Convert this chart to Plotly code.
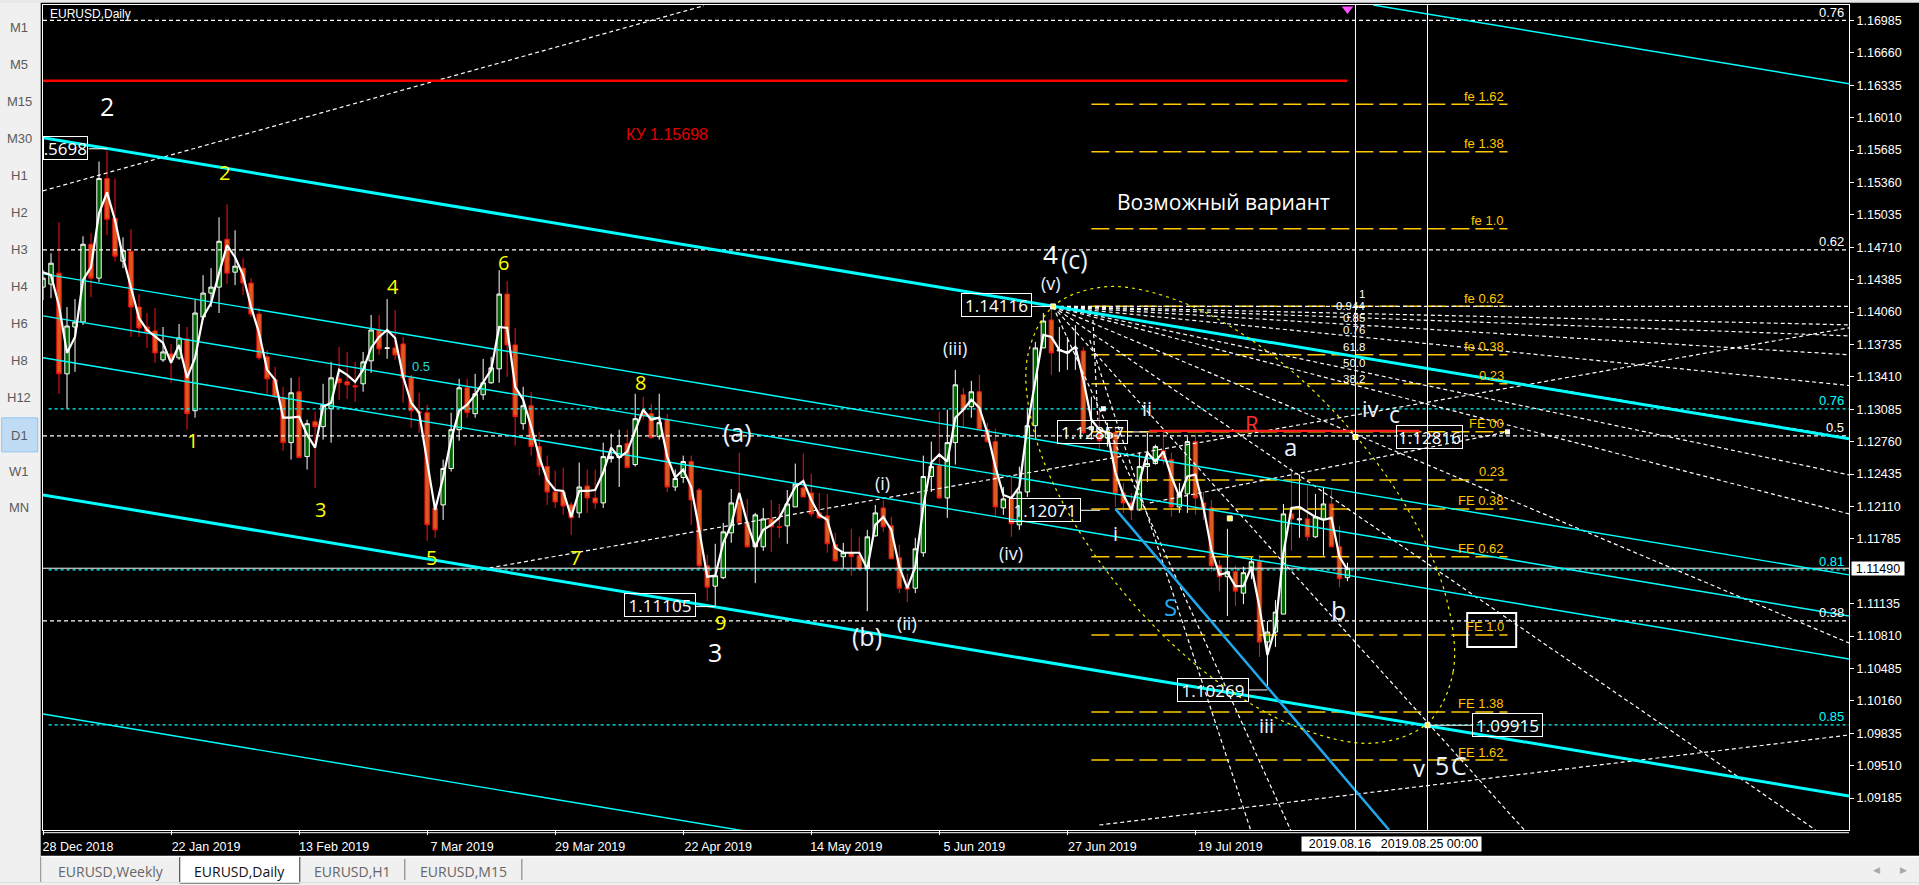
import plotly.graph_objects as go

# ---------- data ----------
HIGH = [1.1448,1.1465,1.1496,1.1411,1.1419,1.1482,1.1485,1.1557,1.1568,1.1540,1.1481,1.1489,1.1424,1.1405,1.1410,1.1391,1.1374,1.1394,1.1391,1.1418,
1.1443,1.1450,1.1501,1.1514,1.1488,1.1460,1.1440,1.1410,1.1368,1.1351,1.1331,1.1340,1.1341,1.1298,1.1306,1.1334,1.1356,1.1371,1.1366,1.1356,
1.1366,1.1403,1.1403,1.1419,1.1408,1.1381,1.1343,1.1325,1.1313,1.12175,1.1258,1.1305,1.1339,1.1339,1.1344,1.1359,1.1361,1.1448,1.1437,1.1390,
1.1331,1.1326,1.1286,1.1262,1.1247,1.1250,1.12155,1.1255,1.1248,1.1248,1.1275,1.1284,1.1288,1.1288,1.1324,1.1321,1.1314,1.1324,1.1304,1.1248,
1.1262,1.1262,1.12295,1.11625,1.11735,1.11945,1.12285,1.1265,1.12185,1.12045,1.12095,1.12175,1.12135,1.12275,1.1254,1.1264,1.1244,1.12245,1.12235,1.11845,
1.11745,1.11885,1.11805,1.11875,1.12125,1.12175,1.12005,1.11725,1.11435,1.11795,1.1262,1.1276,1.1306,1.1308,1.1348,1.1330,1.1337,1.1343,1.1295,1.1289,
1.12305,1.1240,1.1251,1.1310,1.1376,1.1405,1.1410,1.1391,1.1381,1.1393,1.1371,1.1321,1.1311,1.1295,1.1291,1.12345,1.12245,1.1265,1.1285,1.1273,
1.1285,1.1265,1.12345,1.1281,1.1283,1.12255,1.12175,1.11575,1.11885,1.11515,1.11505,1.11605,1.11625,1.1096,1.1117,1.12135,1.1250,1.1243,1.12315,1.12235,
1.12305,1.12285,1.11915,1.11545]
LOW = [1.1418,1.1420,1.1324,1.1309,1.1346,1.1393,1.1421,1.1436,1.1483,1.1457,1.1450,1.1381,1.1381,1.1370,1.1355,1.1356,1.1335,1.1358,1.1288,1.1300,
1.1398,1.1411,1.1405,1.1434,1.1433,1.1423,1.1401,1.1358,1.1324,1.1320,1.1267,1.1258,1.1260,1.1248,1.12295,1.1278,1.1275,1.1318,1.1319,1.1316,
1.1326,1.1345,1.1363,1.1359,1.1358,1.1315,1.1290,1.1285,1.11765,1.11795,1.11975,1.1246,1.1277,1.1300,1.1300,1.1318,1.1334,1.1335,1.1341,1.1272,
1.1288,1.1262,1.1242,1.12125,1.12095,1.12025,1.11825,1.11995,1.12045,1.12085,1.12095,1.1255,1.12305,1.1249,1.1251,1.1298,1.1279,1.1278,1.12255,1.12265,
1.12345,1.11925,1.11475,1.1116,1.1111,1.1138,1.11745,1.11925,1.11695,1.1134,1.11665,1.11655,1.11795,1.11735,1.12105,1.12205,1.12005,1.11995,1.11645,1.11555,
1.11495,1.11415,1.11475,1.1106,1.11805,1.11855,1.11585,1.1124,1.1115,1.1124,1.11605,1.12255,1.12185,1.11995,1.1253,1.1290,1.1300,1.1287,1.1275,1.12005,
1.12025,1.11805,1.11875,1.12205,1.1281,1.1370,1.1343,1.1346,1.1348,1.1348,1.1283,1.1278,1.1268,1.1271,1.12105,1.12045,1.11975,1.12065,1.12355,1.1253,
1.1253,1.12005,1.12045,1.12045,1.12025,1.11975,1.11455,1.1126,1.1101,1.1111,1.1113,1.1138,1.1060,1.1028,1.1070,1.1103,1.11665,1.11795,1.11765,1.11795,
1.11615,1.11705,1.1130,1.1136]
OPEN = [1.1431,1.1434,1.1445,1.1344,1.1391,1.1396,1.1474,1.1440,1.1540,1.1500,1.1457,1.1467,1.1411,1.1391,1.1387,1.1358,1.1364,1.1360,1.1379,1.1307,
1.1401,1.1425,1.1431,1.1479,1.1446,1.1450,1.1435,1.1404,1.1361,1.1338,1.1320,1.1275,1.1326,1.1261,1.1296,1.1291,1.1309,1.1339,1.1336,1.1332,
1.1334,1.1357,1.1388,1.13695,1.1370,1.1374,1.1340,1.1306,1.1305,1.12095,1.12125,1.1249,1.1288,1.1330,1.1304,1.1323,1.1335,1.1349,1.1424,1.1373,
1.1294,1.1312,1.1271,1.1251,1.12255,1.12255,1.12125,1.12045,1.12315,1.12195,1.12145,1.1259,1.1260,1.1274,1.1253,1.1305,1.1304,1.1281,1.1298,1.12305,
1.1240,1.1256,1.12275,1.11515,1.1131,1.11395,1.11845,1.12155,1.11945,1.11705,1.11705,1.11985,1.11905,1.11915,1.12105,1.12295,1.12245,1.12045,1.12015,1.11725,
1.11605,1.11645,1.11615,1.11485,1.11815,1.12095,1.11915,1.11595,1.1130,1.1129,1.11645,1.1241,1.1252,1.12195,1.1275,1.1323,1.1311,1.1326,1.1288,1.1276,
1.12095,1.12185,1.11925,1.12255,1.1292,1.1370,1.1398,1.1367,1.1365,1.1369,1.1367,1.1288,1.1283,1.1280,1.1285,1.12245,1.12145,1.12075,1.1251,1.1254,
1.1267,1.1258,1.12105,1.12235,1.1276,1.12145,1.12095,1.11515,1.11405,1.11455,1.1124,1.11465,1.11555,1.1075,1.1085,1.1103,1.12035,1.11975,1.11985,1.11805,
1.11985,1.12135,1.11705,1.11395]
CLOSE = [1.1440,1.1455,1.1344,1.1392,1.1396,1.1474,1.1440,1.1540,1.1499,1.1462,1.1468,1.1411,1.1390,1.1386,1.1365,1.1366,1.1358,1.1380,1.1304,1.1405,
1.1425,1.1431,1.1477,1.1445,1.1452,1.1435,1.1404,1.1360,1.1339,1.1321,1.1275,1.1325,1.1260,1.1294,1.1291,1.1313,1.1340,1.1335,1.1333,1.1331,
1.1356,1.1388,1.1369,1.1370,1.1363,1.1340,1.1307,1.1305,1.11925,1.11875,1.1249,1.1288,1.1330,1.1305,1.1324,1.1335,1.1350,1.1424,1.1373,1.1301,
1.1312,1.1271,1.1251,1.12255,1.12155,1.12115,1.11995,1.12305,1.12195,1.12145,1.1261,1.1261,1.1272,1.1250,1.1299,1.1302,1.1280,1.1295,1.12305,1.1239,
1.1256,1.12175,1.11515,1.1130,1.11415,1.11855,1.12145,1.11945,1.11705,1.12025,1.11985,1.11905,1.1190,1.12135,1.12335,1.12205,1.12035,1.11995,1.11735,1.11565,
1.11645,1.11605,1.11485,1.11805,1.12045,1.11905,1.11585,1.1129,1.1128,1.11685,1.1241,1.1251,1.12195,1.1275,1.1333,1.1308,1.1326,1.1288,1.1276,1.12105,
1.12185,1.11935,1.12255,1.1292,1.1370,1.1397,1.1365,1.1368,1.1366,1.1370,1.1285,1.1291,1.1277,1.1285,1.12245,1.12145,1.12075,1.1251,1.1254,1.1271,
1.1258,1.12105,1.12235,1.1276,1.12195,1.12095,1.11515,1.11405,1.11455,1.1126,1.11445,1.11555,1.1075,1.1085,1.1105,1.12035,1.11985,1.11985,1.11805,1.12005,
1.12135,1.11705,1.11385,1.1149]
SMOOTH = [1.1446,1.1443,1.1412,1.1365,1.1381,1.1438,1.1451,1.1505,1.1526,1.1498,1.1461,1.1431,1.1400,1.1388,1.1381,1.1375,1.1355,1.1373,1.1340,1.1360,
1.1401,1.1415,1.1445,1.1473,1.1461,1.1443,1.1411,1.1385,1.1348,1.1338,1.1300,1.1300,1.1301,1.1283,1.1270,1.1311,1.1315,1.1348,1.1343,1.1336,
1.1348,1.1370,1.1381,1.1388,1.1380,1.1341,1.1315,1.1305,1.1256,1.12075,1.1240,1.1278,1.1307,1.1313,1.1323,1.1336,1.1348,1.1391,1.1390,1.1331,
1.1318,1.1291,1.1261,1.12375,1.12275,1.12265,1.12005,1.12265,1.12265,1.12275,1.1245,1.1270,1.1260,1.1266,1.1288,1.1308,1.1298,1.1300,1.1261,1.1240,
1.1248,1.12305,1.11875,1.11405,1.11415,1.11745,1.11925,1.12245,1.11945,1.11705,1.11875,1.11925,1.11995,1.12145,1.12305,1.12365,1.12175,1.12025,1.11975,1.11695,
1.11645,1.11645,1.11645,1.11485,1.11925,1.12005,1.11875,1.11505,1.1129,1.11505,1.12105,1.1255,1.1263,1.1256,1.1300,1.1308,1.1318,1.1310,1.1285,1.1251,
1.12225,1.12195,1.12305,1.1291,1.1338,1.1383,1.1381,1.1368,1.1365,1.1371,1.1338,1.1298,1.1288,1.1285,1.1245,1.12225,1.12075,1.12375,1.1265,1.1256,
1.1266,1.1241,1.12205,1.1241,1.1243,1.12105,1.11675,1.11425,1.11445,1.1131,1.1131,1.11505,1.1110,1.1062,1.1090,1.11645,1.12095,1.12105,1.12055,1.12005,
1.11975,1.11995,1.11605,1.11475]

PRICE_TICKS = [1.16985,1.16660,1.16335,1.16010,1.15685,1.15360,1.15035,1.14710,1.14385,1.14060,1.13735,1.13410,1.13085,1.12760,1.12435,1.12110,1.11785,1.11135,1.10810,1.10485,1.10160,1.09835,1.09510,1.09185]
DATE_BARS = [0,16,32,48,64,80,96,112,128,144]
DATE_LABELS = ["28 Dec 2018","22 Jan 2019","13 Feb 2019","7 Mar 2019","29 Mar 2019","22 Apr 2019","14 May 2019","5 Jun 2019","27 Jun 2019","19 Jul 2019"]

CHANNEL_THICK = [(0,1.15808,225.67,1.12788),(0,1.12226,225.67,1.09205)]
CHANNEL_THIN = [(166.2,1.17140,225.67,1.16350),(0,1.14443,225.67,1.11423),(0,1.14022,225.67,1.11011),(0,1.13601,225.67,1.10580),(0,1.10028,225.67,1.07007)]
FIB_WHITE = [1.16985,1.14684,1.12818,1.10961]
FIB_WHITE_TEXT = ["0.76","0.62","0.5","0.38"]
FIB_CYAN = [1.13089,1.11473,1.09918]
FIB_CYAN_TEXT = ["0.76","0.81","0.85"]
GOLD_LEVELS = [1.16144,1.15668,1.14895,1.14117,1.13631,1.1334,1.12858,1.12376,1.12085,1.11604,1.10821,1.10048,1.09566]
GOLD_TEXT = ["fe 1.62","fe 1.38","fe 1.0","fe 0.62","fe 0.38","0.23","FE 00","0.23","FE 0.38","FE 0.62","FE 1.0","FE 1.38","FE 1.62"]
FAN_END_BARS = [225.67]*9 + [221.5,185.1,155.9]
FAN_END_PRICES = [1.14116,1.13931,1.13821,1.13631,1.13323,1.12798,1.12426,1.12035,1.10740,1.08864,1.08864,1.08864]
RISING = [(0,1.15276,82.6,1.17133),(55.8,1.11493,225.67,1.13902),(138.3,1.12145,183,1.12858),(132,1.08914,225.67,1.09817),(131.2,1.13980,131.8,1.12980),(130.8,1.13780,150.9,1.08864)]
ELLIPSE_BARS = [173.0,176.2,175.3,170.5,162.5,152.6,142.2,132.9,126.2,123.0,123.9,128.7,136.7,146.6,157.0,166.2,173.0]
ELLIPSE_PRICES = [1.09935,1.10451,1.11207,1.12086,1.12958,1.13688,1.14163,1.14314,1.14115,1.13600,1.12843,1.11964,1.11092,1.10362,1.09887,1.09736,1.09935]
CONNECTORS = [(5.7,1.15698,8),(123.5,1.14116,126.2),(135.5,1.12857,138),(129.6,1.12071,132.1),(81.6,1.11105,84),(150.6,1.10269,153),(173,1.09915,178.6)]

PX0, PX1, PY0, PY1 = 43.3, 1848.7, 5.3, 830.0
W, H = 1919, 885
def X(px): return (px - PX0) / (PX1 - PX0)
def Y(py): return (PY1 - py) / (PY1 - PY0)

AXF = "Liberation Sans"
TXF = "Open Sans"
WHITE = "#ffffff"; CYAN = "#00ffff"; GOLD = "#ffc800"; YEL = "#ffff00"; SOFT = "#eaf2ff"
bars = list(range(len(OPEN)))
fig = go.Figure()

def seg(x0, p0, x1, p1, color, width, dash="solid", shape="linear"):
    fig.add_trace(go.Scatter(x=[x0, x1], y=[p0, p1], mode="lines", hoverinfo="skip",
                             line=dict(color=color, width=width, dash=dash, shape=shape)))

fig.add_trace(go.Candlestick(x=bars, open=OPEN, high=HIGH, low=LOW, close=CLOSE, hoverinfo="skip", whiskerwidth=0,
    increasing=dict(line=dict(color=WHITE, width=1), fillcolor="#006400"),
    decreasing=dict(line=dict(color="#ff1010", width=1), fillcolor="#de5a1e")))

for p in FIB_WHITE: seg(0, p, 225.67, p, WHITE, 1.2, "4px,3px")
for p in FIB_CYAN: seg(0.7, p, 225.67, p, CYAN, 1.2, "3px,3px")
for p in GOLD_LEVELS: seg(131, p, 183, p, GOLD, 1.5, "18px,6px")
for bx, p in zip(FAN_END_BARS, FAN_END_PRICES): seg(126.2, 1.14116, bx, p, WHITE, 1.2, "4px,3px")
for s in RISING: seg(*s, WHITE, 1.2, "4px,3px")
seg(0, 1.1149, 225.67, 1.1149, WHITE, 1)
seg(0, 1.1638, 163, 1.1638, "#ff0000", 2.6)
seg(138.2, 1.12868, 172, 1.12868, "#ff2020", 2.4)
for s in CHANNEL_THIN: seg(*s, CYAN, 1.4)
for s in CHANNEL_THICK: seg(*s, CYAN, 3)
seg(134, 1.12085, 168.2, 1.08864, "#21a8ea", 2.5)
fig.add_trace(go.Scatter(x=ELLIPSE_BARS, y=ELLIPSE_PRICES, mode="lines", hoverinfo="skip",
                         line=dict(color="#f0f000", width=1.2, dash="3px,4px", shape="spline", smoothing=1.0)))
fig.add_trace(go.Scatter(x=bars, y=SMOOTH, mode="lines", hoverinfo="skip", line=dict(color=WHITE, width=2.2)))
for b, p, b1 in CONNECTORS:
    seg(b, p, b1, p, WHITE, 1)
for b in (164, 173): seg(b, 1.0886, b, 1.1714, WHITE, 1)
fig.add_trace(go.Scatter(x=[164, 173, 148.3, 126.2], y=[1.12806, 1.09915, 1.11990, 1.14116], mode="markers", hoverinfo="skip",
                         marker=dict(symbol="square", size=5, color="#ffff60", line=dict(color=WHITE, width=1))))
fig.add_trace(go.Scatter(x=[132.5, 183], y=[1.13090, 1.12858], mode="markers", hoverinfo="skip",
                         marker=dict(symbol="square", size=5, color=WHITE)))
fig.add_trace(go.Scatter(x=[163], y=[1.1710], mode="markers", hoverinfo="skip",
                         marker=dict(symbol="triangle-down", size=10, color="#ff50ff")))

ann = []
def txt(s, px, py, size=13, color=WHITE, font=TXF, xa="center", ya="middle", **kw):
    ann.append(dict(text=s, x=X(px), y=Y(py), xref="paper", yref="paper", showarrow=False, xanchor=xa, yanchor=ya,
                    font=dict(family=font, size=size, color=color), **kw))

txt("EURUSD,Daily", 48, 14, 12, WHITE, AXF, xa="left")
txt("КУ 1.15698", 667, 135, 16, "#e00000", AXF)
txt("Возможный вариант", 1223, 202, 21)
for s, px, py, size, col in [
    ("2",107,106,25,WHITE),("2",225,173,20,YEL),("4",393,287,20,YEL),("6",504,263,20,YEL),("8",641,383,20,YEL),
    ("1",193,441,20,YEL),("3",321,510,20,YEL),("5",432,558,20,YEL),("7",576,558,20,YEL),("9",721,623,20,YEL),
    ("3",715,652,25,WHITE),("(a)",738,432,25,SOFT),("(b)",867,636,25,SOFT),("(i)",883,483,18,SOFT),("(ii)",907,623,18,SOFT),
    ("(iii)",955,348,18,SOFT),("(iv)",1011,553,18,SOFT),("(v)",1051,283,18,SOFT),("4",1050,254,26,WHITE),("(c)",1074,259,25,SOFT),
    ("ii",1147,409,20,SOFT),("i",1115,534,20,SOFT),("iii",1266,726,20,SOFT),("a",1290,447,24,SOFT),("b",1338,610,25,SOFT),
    ("iv",1370,408,22,SOFT),("c",1394,414,23,SOFT),("v",1419,768,24,SOFT),("5",1442,765,25,SOFT),("C",1459,765,25,SOFT),
    ("R",1252,423,22,"#ff3030"),("S",1170,607,24,"#22a8f0")]:
    txt(s, px, py, size, col)

for s, p in zip(FIB_WHITE_TEXT, FIB_WHITE):
    txt(s, 1846, (1.17193 - p) / 0.00010035 - 8, 13, WHITE, AXF, xa="right")
for s, p in zip(FIB_CYAN_TEXT, FIB_CYAN):
    txt(s, 1846, (1.17193 - p) / 0.00010035 - 8, 13, CYAN, AXF, xa="right")
txt("0.5", 421, 367, 13, "#20d8d8", AXF)
for s, p in zip(GOLD_TEXT, GOLD_LEVELS):
    txt(s, 1505.7, (1.17193 - p) / 0.00010035 - 8, 13, GOLD, AXF, xa="right")
for s, py in [("1",294),("0.944",306),("0.85",318),("0.76",330),("61.8",347),("50.0",363),("38.2",379)]:
    txt(s, 1367, py, 11.5, WHITE, AXF, xa="right")

for s, cx, cy, ww in [("1.14116",996.7,305.5,69),("1.12857",1092,432,69),("1.12071",1044.5,510,70),("1.11105",660.5,605.5,70),
                      ("1.10269",1212.5,690,70),("1.09915",1507,725,69),("1.12816",1429,437,65)]:
    txt(s, cx, cy, 17, WHITE, TXF, width=ww, height=22, bordercolor=WHITE, borderwidth=1, borderpad=0, align="center")
txt(".5698", 65.5, 148.5, 17, WHITE, TXF, width=43, height=22, bordercolor=WHITE, borderwidth=1, borderpad=0, align="right")
txt("1.11490", 1878, 568.5, 12.5, "#000000", AXF, bgcolor=WHITE, width=52, height=13, borderpad=0)
txt("2019.08.16", 1340, 844, 12.5, "#000000", AXF, bgcolor=WHITE, width=76, height=14, borderpad=0)
txt("2019.08.25 00:00", 1429, 844, 12.5, "#000000", AXF, bgcolor=WHITE, width=103, height=14, borderpad=0)

shapes = []
def rect(x0, y0, x1, y1, fill, line=None, lw=0):
    shapes.append(dict(type="rect", xref="paper", yref="paper", x0=X(x0), x1=X(x1), y0=Y(y0), y1=Y(y1),
                       fillcolor=fill, line=dict(color=line or fill, width=lw), layer="below"))
def hline(x0, x1, y, color, w=1):
    shapes.append(dict(type="line", xref="paper", yref="paper", x0=X(x0), x1=X(x1), y0=Y(y), y1=Y(y), line=dict(color=color, width=w)))
def vline(x, y0, y1, color, w=1):
    shapes.append(dict(type="line", xref="paper", yref="paper", x0=X(x), x1=X(x), y0=Y(y0), y1=Y(y1), line=dict(color=color, width=w)))

rect(0, 0, 41, 885, "#f0f0f0")
rect(0, 0, 1919, 3, "#e8e8e8")
rect(2, 418, 38, 452, "#bfdcf4", "#90c4ee", 1)
rect(0, 857, 1919, 885, "#f0f0f0")
hline(41, 1919, 856.5, "#ffffff", 1.5)
hline(43, 1848.7, 832.7, WHITE, 1)
rect(180, 857, 300, 883, "#ffffff")
vline(41, 857, 882, "#8a8a8a")
vline(180, 857, 883, "#333333")
vline(300, 857, 883, "#333333")
hline(180, 300, 883, "#333333")
hline(0, 1919, 882.5, "#dddddd", 1)
vline(405, 859, 880, "#777777")
vline(522, 859, 880, "#777777")
shapes.append(dict(type="rect", xref="paper", yref="paper", x0=X(1467), x1=X(1516), y0=Y(613), y1=Y(647), line=dict(color=WHITE, width=2)))

for s, py in [("M1",28),("M5",65),("M15",102),("M30",139),("H1",176),("H2",213),("H3",250),("H4",287),("H6",324),("H8",361),("H12",398),("D1",436),("W1",472),("MN",508)]:
    txt(s, 19.5, py, 13, "#5a5a5a", AXF)
for s, cx, col in [("EURUSD,Weekly",111,"#666666"),("EURUSD,Daily",240,"#111111"),("EURUSD,H1",353,"#666666"),("EURUSD,M15",464,"#666666")]:
    txt(s, cx, 871.5, 14, col, TXF)
txt("◀", 1876, 870, 9, "#a8a8a8", AXF)
txt("▶", 1903, 870, 9, "#a8a8a8", AXF)

fig.update_layout(
    width=W, height=H, autosize=False, showlegend=False, hovermode=False, dragmode=False,
    margin=dict(l=PX0, r=W - PX1, t=PY0, b=H - PY1, pad=0),
    paper_bgcolor="#000000", plot_bgcolor="#000000", boxgap=0.45, boxgroupgap=0,
    annotations=ann, shapes=shapes,
    xaxis=dict(range=[0, 225.67], tickmode="array", tickvals=DATE_BARS, ticktext=DATE_LABELS, showgrid=False, zeroline=False,
               rangeslider=dict(visible=False), showline=True, mirror=True, linecolor=WHITE, linewidth=1,
               ticks="outside", ticklen=4, tickcolor=WHITE, ticklabelshift=35, ticklabelstandoff=1,
               tickfont=dict(family=AXF, size=12.5, color=WHITE)),
    yaxis=dict(range=[1.08864, 1.17140], side="right", tickmode="array", tickvals=PRICE_TICKS,
               ticktext=[f"{v:.5f}" for v in PRICE_TICKS], showgrid=False, zeroline=False, showline=True, mirror=True,
               linecolor=WHITE, linewidth=1, ticks="outside", ticklen=4, tickcolor=WHITE,
               tickfont=dict(family=AXF, size=12.5, color=WHITE)),
)
fig.write_html("out.html", config=dict(displayModeBar=False, staticPlot=True),
               post_script="document.body.style.margin='0';document.body.style.overflow='hidden';document.body.style.background='#000';")
